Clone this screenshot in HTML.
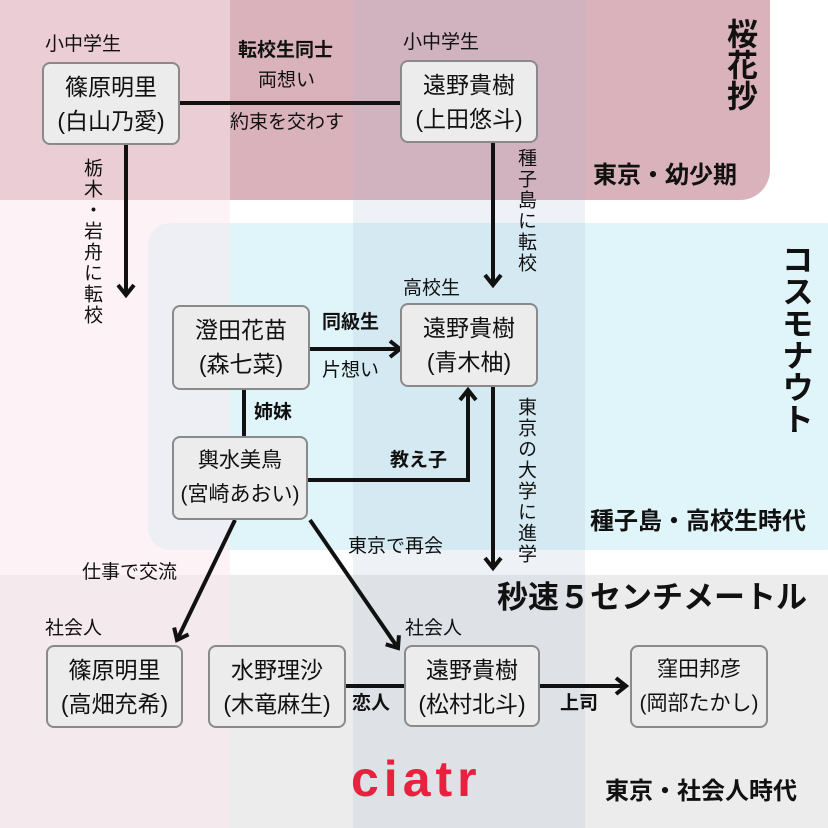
<!DOCTYPE html>
<html><head><meta charset="utf-8"><style>
body{margin:0;width:828px;height:828px;position:relative;overflow:hidden;background:#fff;font-family:"Liberation Sans","Noto Sans CJK JP",sans-serif;color:#111}
.r{position:absolute}
.n{position:absolute;background:#ececec;border:2px solid #8a8a8a;border-radius:8px;box-sizing:border-box;text-align:center;font-size:23px;line-height:34px;padding-top:6px;white-space:nowrap}
.t{position:absolute;font-size:19px;line-height:22px;white-space:nowrap}
.b{font-weight:bold}
.v{writing-mode:vertical-rl;letter-spacing:2px}
.h{font-size:24px;font-weight:bold;line-height:28px}
</style></head><body>
<div class="r" style="left:0;top:0;width:770px;height:200px;background:#dab2bb;border-bottom-right-radius:30px"></div>
<div class="r" style="left:148px;top:223px;width:700px;height:327px;background:#e0f5fa;border-radius:22px"></div>
<div class="r" style="left:0;top:575px;width:828px;height:253px;background:#ececec"></div>
<div class="r" style="left:0;top:0;width:230px;height:828px;background:rgba(252,232,240,0.5)"></div>
<div class="r" style="left:353px;top:0;width:232px;height:828px;background:rgba(170,185,210,0.2)"></div>

<svg class="r" style="left:0;top:0" width="828" height="828">
<defs><marker id="a" markerWidth="24" markerHeight="24" refX="12" refY="10" orient="auto" markerUnits="userSpaceOnUse"><path d="M2,2 L12,10 L2,18" fill="none" stroke="#111" stroke-width="4"/></marker></defs>
<g stroke="#111" stroke-width="4" fill="none">
<line x1="180" y1="103" x2="400" y2="103"/>
<line x1="126" y1="145" x2="126" y2="295" marker-end="url(#a)"/>
<line x1="493" y1="142" x2="493" y2="285" marker-end="url(#a)"/>
<line x1="310" y1="349" x2="400" y2="349" marker-end="url(#a)"/>
<line x1="244" y1="390" x2="244" y2="436"/>
<polyline points="308,480 468,480 468,390" marker-end="url(#a)"/>
<line x1="493" y1="387" x2="493" y2="568" marker-end="url(#a)"/>
<line x1="235" y1="520" x2="177" y2="640" marker-end="url(#a)"/>
<line x1="310" y1="520" x2="398" y2="648" marker-end="url(#a)"/>
<line x1="346" y1="686" x2="404" y2="686"/>
<line x1="540" y1="686" x2="626" y2="686" marker-end="url(#a)"/>
</g></svg>

<div class="n" style="left:42px;top:62px;width:138px;height:83px">篠原明里<br>(白山乃愛)</div>
<div class="n" style="left:400px;top:60px;width:138px;height:83px">遠野貴樹<br>(上田悠斗)</div>
<div class="n" style="left:172px;top:305px;width:138px;height:85px">澄田花苗<br>(森七菜)</div>
<div class="n" style="left:400px;top:303px;width:138px;height:84px">遠野貴樹<br>(青木柚)</div>
<div class="n" style="left:172px;top:436px;width:136px;height:84px;font-size:21px">輿水美鳥<br>(宮崎あおい)</div>
<div class="n" style="left:46px;top:645px;width:137px;height:83px">篠原明里<br>(高畑充希)</div>
<div class="n" style="left:208px;top:645px;width:138px;height:83px">水野理沙<br>(木竜麻生)</div>
<div class="n" style="left:404px;top:645px;width:136px;height:82px">遠野貴樹<br>(松村北斗)</div>
<div class="n" style="left:630px;top:645px;width:138px;height:83px;font-size:21px">窪田邦彦<br>(岡部たかし)</div>

<div class="t" style="left:45px;top:34px">小中学生</div>
<div class="t" style="left:403px;top:32px">小中学生</div>
<div class="t b" style="left:238px;top:40px">転校生同士</div>
<div class="t" style="left:258px;top:70px">両想い</div>
<div class="t" style="left:230px;top:112px">約束を交わす</div>
<div class="t v" style="left:80px;top:158px">栃木・岩舟に転校</div>
<div class="t v" style="left:514px;top:148px">種子島に転校</div>
<div class="t" style="left:403px;top:278px">高校生</div>
<div class="t b" style="left:322px;top:312px">同級生</div>
<div class="t" style="left:322px;top:360px">片想い</div>
<div class="t b" style="left:254px;top:402px">姉妹</div>
<div class="t b" style="left:390px;top:450px">教え子</div>
<div class="t v" style="left:514px;top:397px">東京の大学に進学</div>
<div class="t" style="left:348px;top:536px">東京で再会</div>
<div class="t" style="left:82px;top:562px">仕事で交流</div>
<div class="t" style="left:45px;top:618px">社会人</div>
<div class="t" style="left:405px;top:618px">社会人</div>
<div class="t b" style="left:352px;top:693px">恋人</div>
<div class="t b" style="left:560px;top:693px">上司</div>

<div class="t b v" style="left:722px;top:18px;font-size:31px;line-height:34px;letter-spacing:0">桜花抄</div>
<div class="t b v" style="left:778px;top:243px;font-size:32px;line-height:36px;letter-spacing:0">コスモナウト</div>
<div class="t h" style="left:593px;top:162px">東京・幼少期</div>
<div class="t h" style="left:590px;top:508px">種子島・高校生時代</div>
<div class="t b" style="left:497px;top:580px;font-size:31px;line-height:36px">秒速５センチメートル</div>
<div class="t h" style="left:605px;top:778px">東京・社会人時代</div>
<div class="t b" style="left:351px;top:754px;font-size:50px;line-height:50px;color:#e8213f;letter-spacing:5px">ciatr</div>
</body></html>
